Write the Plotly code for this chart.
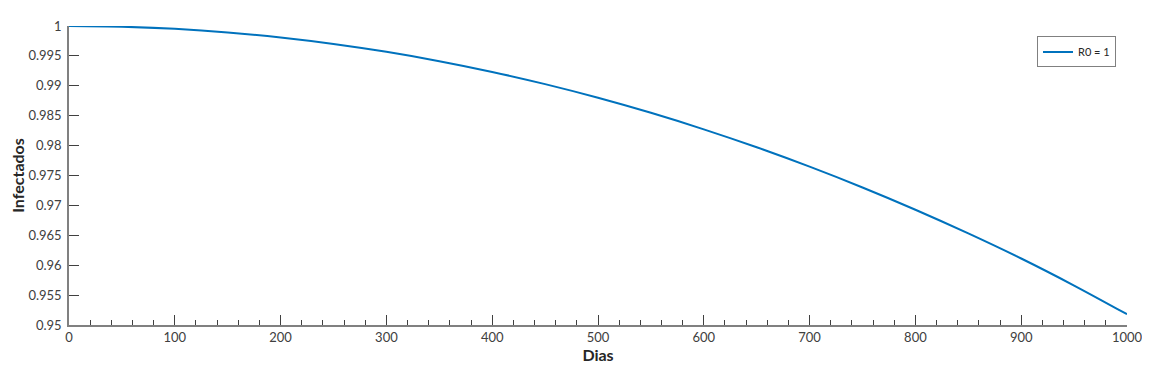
import plotly.graph_objects as go

dias = [0, 50, 100, 150, 200, 250, 300, 350, 400, 450, 500,
        550, 600, 650, 700, 750, 800, 850, 900, 950, 1000]
infectados = [1.0000, 0.99988, 0.99952, 0.99892, 0.99808, 0.99700, 0.99568,
              0.99412, 0.99232, 0.99028, 0.98800, 0.98548, 0.98272, 0.97972,
              0.97648, 0.97300, 0.96928, 0.96532, 0.96112, 0.95660, 0.95180]
serie_nome = "R0 = 1"

x_ticks = [0, 100, 200, 300, 400, 500, 600, 700, 800, 900, 1000]
y_ticks = [0.95, 0.955, 0.96, 0.965, 0.97, 0.975, 0.98, 0.985, 0.99, 0.995, 1.0]
y_ticktext = ["0.95", "0.955", "0.96", "0.965", "0.97", "0.975", "0.98",
              "0.985", "0.99", "0.995", "1"]

font_fam = "Lato, 'Open Sans', sans-serif"

fig = go.Figure()
fig.add_trace(go.Scatter(
    x=dias, y=infectados, mode="lines", name=serie_nome,
    line=dict(color="#0072BD", width=2, shape="spline", smoothing=0.8),
))

fig.update_layout(
    width=1142, height=357,
    margin=dict(l=61, r=23, t=18, b=40, autoexpand=False),
    paper_bgcolor="white", plot_bgcolor="white",
    font=dict(family=font_fam, color="#262626", size=12),
    showlegend=True,
    legend=dict(
        x=0.9896, y=0.965, xanchor="right", yanchor="top",
        bordercolor="#808080", borderwidth=1, bgcolor="white",
        font=dict(size=11, color="#262626"),
        itemwidth=30, tracegroupgap=0,
    ),
)

fig.update_xaxes(
    range=[0, 1000], tickvals=x_ticks, automargin=False,
    ticks="inside", ticklen=10, tickwidth=1, tickcolor="#404040",
    showline=True, linecolor="#808080", linewidth=1.5,
    showgrid=False, zeroline=False, mirror=False,
    minor=dict(dtick=20, tick0=0, ticks="inside", ticklen=5,
               tickwidth=1, tickcolor="#404040", showgrid=False),
    tickfont=dict(size=13, color="#404040"),
    title=dict(text="<b>Dias</b>", font=dict(size=16, color="#262626"), standoff=2),
)
fig.update_yaxes(
    range=[0.95, 1.0], tickvals=y_ticks, ticktext=y_ticktext, automargin=False,
    ticks="inside", ticklen=10, tickwidth=1, tickcolor="#404040",
    showline=True, linecolor="#808080", linewidth=1.5,
    showgrid=False, zeroline=False, mirror=False, ticklabelstandoff=3,
    tickfont=dict(size=13, color="#404040"),
    title=dict(text="<b>Infectados</b>", font=dict(size=16, color="#262626"), standoff=2),
)

fig.write_html("out.html")
